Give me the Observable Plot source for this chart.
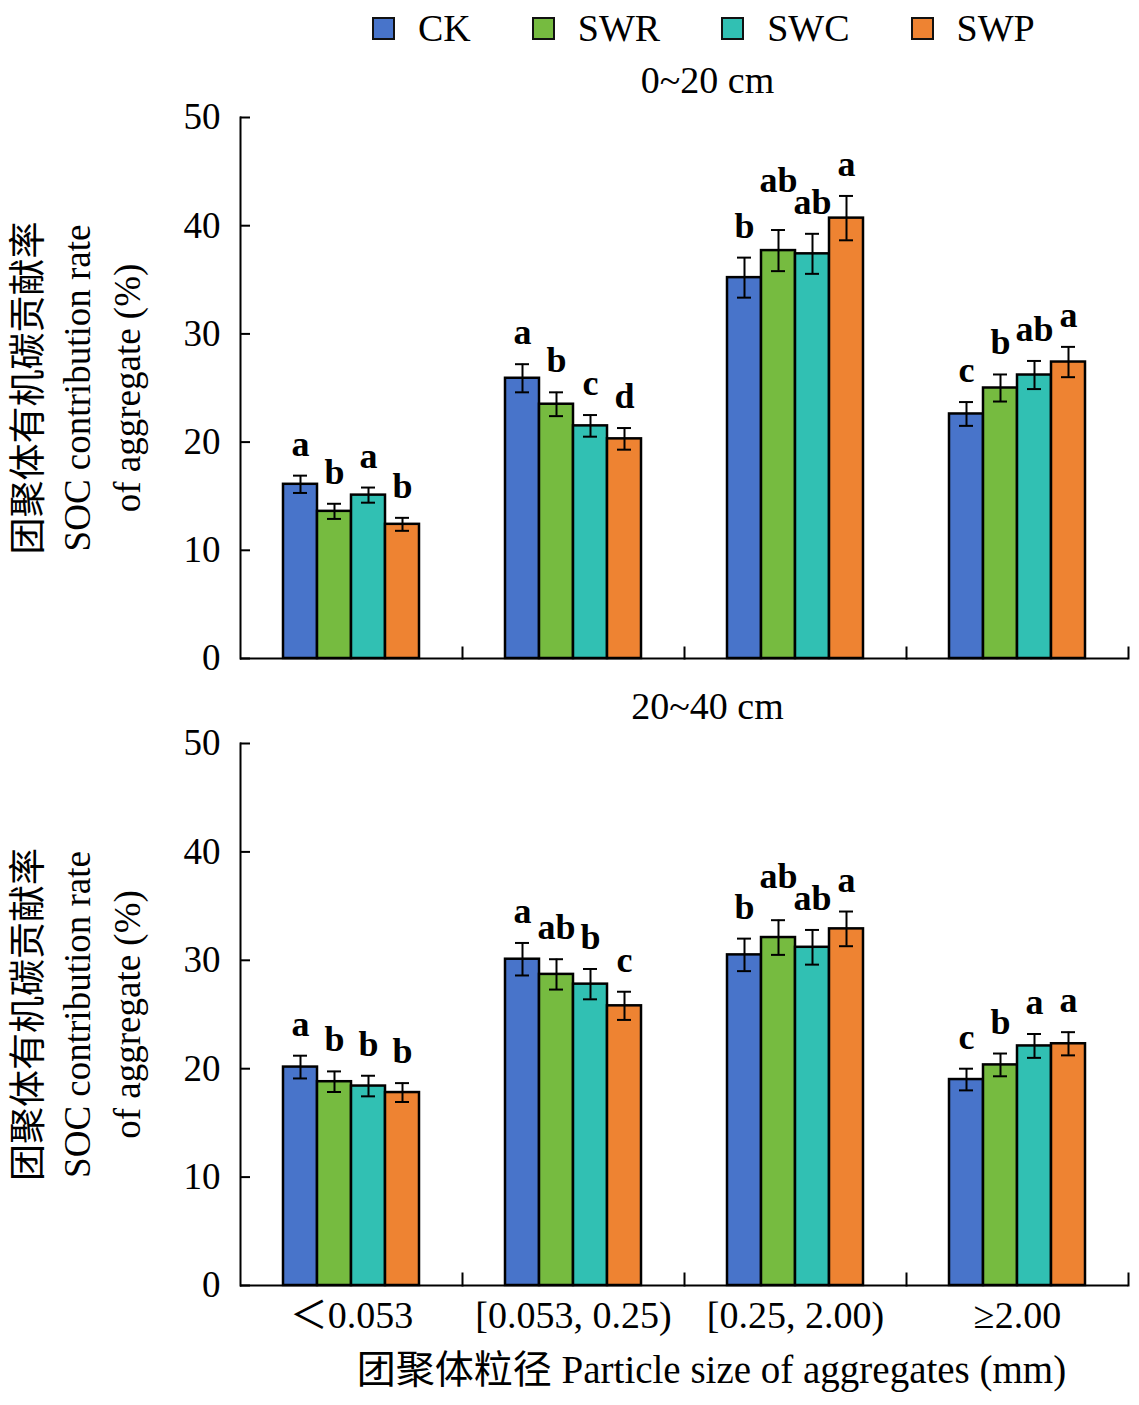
<!DOCTYPE html>
<html>
<head>
<meta charset="utf-8">
<script src="https://cdn.jsdelivr.net/npm/d3@7"></script>
<script src="https://cdn.jsdelivr.net/npm/@observablehq/plot@0.6"></script>
<style>
  body { margin: 0; background: #fff; }
  #root { position: relative; width: 1139px; height: 1405px; background: #fff;
          font-family: "Liberation Serif", "Times New Roman", "Noto Sans CJK SC", serif; }
  #root svg { position: absolute; left: 0; }
  .legend { position: absolute; left: 372px; top: 6px; height: 44px; display: flex; align-items: center;
            font-size: 38px; color: #000; z-index: 5; }
  .legend .sw { width: 23px; height: 23px; border: 2px solid #111; box-sizing: border-box; margin-right: 23px; }
  .legend .lt { margin-right: 61px; line-height: 44px; }
  .legend .lt:last-child { margin-right: 0; }
</style>
</head>
<body>
<div id="root"></div>
<script>
// ---- data ----
const groups = ["＜0.053", "[0.053, 0.25)", "[0.25, 2.00)", "≥2.00"];
const treatments = ["CK", "SWR", "SWC", "SWP"];
const colors = ["#4874CA", "#76BB40", "#31C0B3", "#EE8332"];
const depths = ["0~20 cm", "20~40 cm"];
const yTicks = [0, 10, 20, 30, 40, 50];
const yTitle = "团聚体有机碳贡献率\nSOC contribution rate\nof aggregate (%)";
const xTitle = "团聚体粒径 Particle size of aggregates (mm)";

// rows: particle-size group; columns: CK, SWR, SWC, SWP
const mean0_20 = [[16.1, 13.6, 15.1, 12.4], [25.9, 23.5, 21.5, 20.3], [35.2, 37.7, 37.4, 40.7], [22.6, 25.0, 26.2, 27.4]];
const err0_20 = [[0.8, 0.7, 0.7, 0.6], [1.3, 1.1, 1.0, 1.0], [1.85, 1.9, 1.85, 2.05], [1.1, 1.25, 1.3, 1.4]];
const letters0_20 = [["a", "b", "a", "b"], ["a", "b", "c", "d"], ["b", "ab", "ab", "a"], ["c", "b", "ab", "a"]];

const mean20_40 = [[20.15, 18.8, 18.4, 17.8], [30.1, 28.7, 27.8, 25.8], [30.5, 32.1, 31.2, 32.9], [19.0, 20.35, 22.1, 22.3]];
const err20_40 = [[1.05, 0.95, 0.95, 0.87], [1.5, 1.4, 1.4, 1.3], [1.5, 1.6, 1.6, 1.6], [1.0, 1.05, 1.1, 1.07]];
const letters20_40 = [["a", "b", "b", "b"], ["a", "ab", "b", "c"], ["b", "ab", "ab", "a"], ["c", "b", "a", "a"]];

const FONT = '"Liberation Serif", "Times New Roman", "Noto Sans CJK SC", serif';

function buildRows(means, errs, letters) {
  const rows = [];
  groups.forEach((g, i) => {
    const base = treatments.map((t, j) => means[i][j] + errs[i][j]);
    const lab = base.slice();
    // lift a two-letter label when its right neighbour is also two letters (avoid collision)
    for (let j = 0; j < treatments.length - 1; j++) {
      if (letters[i][j].length > 1 && letters[i][j + 1].length > 1) lab[j] = Math.max(base[j], base[j + 1] + 2);
    }
    treatments.forEach((t, j) => rows.push({
      group: g, treatment: t, mean: means[i][j], err: errs[i][j], letter: letters[i][j], labelY: lab[j]
    }));
  });
  return rows;
}

function panel(title, rows, {height, marginTop, marginBottom, showX}) {
  const marks = [
    Plot.barY(rows, {fx: "group", x: "treatment", y: "mean", fill: "treatment", stroke: "#000", strokeWidth: 2.5}),
    Plot.ruleX(rows, {fx: "group", x: "treatment", y1: d => d.mean - d.err, y2: d => d.mean + d.err, stroke: "#000", strokeWidth: 2}),
    Plot.tickY(rows, {fx: "group", x: "treatment", y: d => d.mean - d.err, stroke: "#000", strokeWidth: 2, insetLeft: 10, insetRight: 10}),
    Plot.tickY(rows, {fx: "group", x: "treatment", y: d => d.mean + d.err, stroke: "#000", strokeWidth: 2, insetLeft: 10, insetRight: 10}),
    Plot.text(rows, {fx: "group", x: "treatment", y: "labelY", text: "letter", lineAnchor: "bottom", dy: -20,
                     fontWeight: "bold", fontSize: 36}),
    Plot.ruleY([0], {stroke: "#000", strokeWidth: 2}),
    Plot.frame({anchor: "right", insetTop: 530, stroke: "#000", strokeWidth: 2}),
    Plot.frame({anchor: "left", facet: "super", stroke: "#000", strokeWidth: 2}),
    Plot.axisY({ticks: yTicks, tickSize: -10, tickPadding: 30, strokeWidth: 2, label: null, fontSize: 37}),
    Plot.text([title], {text: d => d, frameAnchor: "top", lineAnchor: "middle", dy: -37, dx: 23, fontSize: 38, facet: "super"}),
    Plot.text([yTitle], {text: d => d, frameAnchor: "left", rotate: -90, textAnchor: "middle", lineAnchor: "middle",
                         lineHeight: 1.35, dx: -166, fontSize: 37, facet: "super"})
  ];
  if (showX) {
    marks.push(Plot.axisFx({anchor: "bottom", tickSize: 0, tickPadding: 16, label: null, fontSize: 38}));
    marks.push(Plot.text([xTitle], {text: d => d, frameAnchor: "bottom", lineAnchor: "middle", dy: 85, dx: 27, fontSize: 39, facet: "super"}));
  }
  return Plot.plot({
    width: 1139,
    height,
    marginLeft: 238,
    marginRight: 10,
    marginTop,
    marginBottom,
    style: {fontFamily: FONT, fontSize: "38px", color: "#000", background: "transparent", overflow: "visible"},
    fx: {domain: groups, padding: 0, axis: null, label: null},
    x: {domain: treatments, paddingInner: 0, paddingOuter: 1.23, axis: null},
    y: {domain: [0, 50], axis: null},
    color: {domain: treatments, range: colors},
    marks
  });
}

const root = document.getElementById("root");

const p1 = panel(depths[0], buildRows(mean0_20, err0_20, letters0_20), {height: 690, marginTop: 117, marginBottom: 32, showX: false});
p1.style.top = "0px";
root.appendChild(p1);

const p2 = panel(depths[1], buildRows(mean20_40, err20_40, letters20_40), {height: 715, marginTop: 53, marginBottom: 120, showX: true});
p2.style.top = "690px";
root.appendChild(p2);

// legend
const legend = document.createElement("div");
legend.className = "legend";
treatments.forEach((t, j) => {
  const sw = document.createElement("span");
  sw.className = "sw";
  sw.style.background = colors[j];
  const lt = document.createElement("span");
  lt.className = "lt";
  lt.textContent = t;
  legend.appendChild(sw);
  legend.appendChild(lt);
});
root.appendChild(legend);
</script>
</body>
</html>
